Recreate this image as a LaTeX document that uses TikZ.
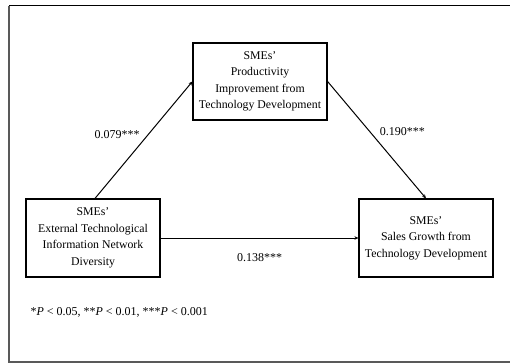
\documentclass[tikz,border=0pt]{standalone}
\usepackage{fontspec}
\setmainfont{Liberation Serif}
\usetikzlibrary{positioning,arrows.meta}

\begin{document}
\begin{tikzpicture}[x=1pt,y=-1pt,
    varbox/.style={draw, line width=1.2pt, align=center, minimum width=134pt, minimum height=77pt,
        font=\fontsize{11.8pt}{16.5pt}\selectfont},
    path/.style={-{Stealth[length=4pt,width=3.5pt]}, line width=1pt},
    coef/.style={font=\fontsize{12pt}{14pt}\selectfont}]
\useasboundingbox (0,0) rectangle (510,363);
\draw[line width=1pt] (9,6) -- (510,6);
\draw[gray!70!black, line width=1.5pt] (9,6) -- (9,362) -- (510,362);

\node[varbox] (med) at (260,81.5) {SMEs'\\Productivity\\Improvement from\\Technology Development};
\node[varbox, minimum height=78pt] (ext) at (93,238) {SMEs'\\External Technological\\Information Network\\Diversity};
\node[varbox, minimum height=78pt] (sales) at (426,238) {SMEs'\\Sales Growth from\\Technology Development};

\draw[path] ([xshift=2pt]ext.north) -- (med.west) node[coef, pos=0.55, left=5pt] {0.079***};
\draw[path] (med.east) -- (sales.north) node[coef, pos=0.43, right=6pt] {0.190***};
\draw[path] (ext.east) -- (sales.west) node[coef, midway, below=12pt] {0.138***};

\node[coef, anchor=west] (note) at (27,312) {*\textit{P} < 0.05, **\textit{P} < 0.01, ***\textit{P} < 0.001};
\end{tikzpicture}
\end{document}
